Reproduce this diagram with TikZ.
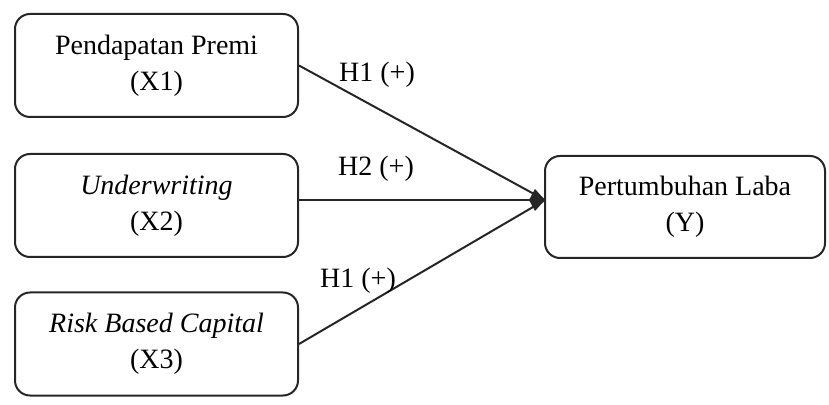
\documentclass[tikz,border=0pt]{standalone}
\usepackage{fontspec}
\setmainfont{Liberation Serif}
\usetikzlibrary{arrows.meta}
\begin{document}
\begin{tikzpicture}[x=0.5pt,y=-0.5pt,
  varbox/.style={draw=black!85, line width=1pt, rounded corners=7.5pt,
    minimum width=141.5pt, minimum height=51.5pt, align=center,
    font=\fontsize{14}{18}\selectfont, inner sep=0pt},
  link/.style={draw=black!85, line width=1pt},
  hlabel/.style={font=\fontsize{14}{16.5}\selectfont, inner sep=0pt}]
\useasboundingbox (0,0) rectangle (829,405);
\node[varbox] (x1) at (156.5,65.5) {Pendapatan Premi\\(X1)};
\node[varbox] (x2) at (156.5,205.5) {\textit{Underwriting}\\(X2)};
\node[varbox] (x3) at (156.5,344) {\textit{Risk Based Capital}\\(X3)};
\node[varbox, minimum width=140pt, minimum height=51pt] (y) at (685,207) {Pertumbuhan Laba\\(Y)};
\coordinate (tip) at (545,200);
\draw[link] (x1.east) -- (tip);
\draw[link] (x3.east) -- (tip);
\draw[link, -{Kite[length=8pt, width=11pt, inset=3pt]}] (x2.east |- tip) -- (tip);
\node[hlabel] (h1) at (377,75) {H1 (+)};
\node[hlabel] (h2) at (376,169) {H2 (+)};
\node[hlabel] (h3) at (358,281) {H1 (+)};
\end{tikzpicture}
\end{document}
